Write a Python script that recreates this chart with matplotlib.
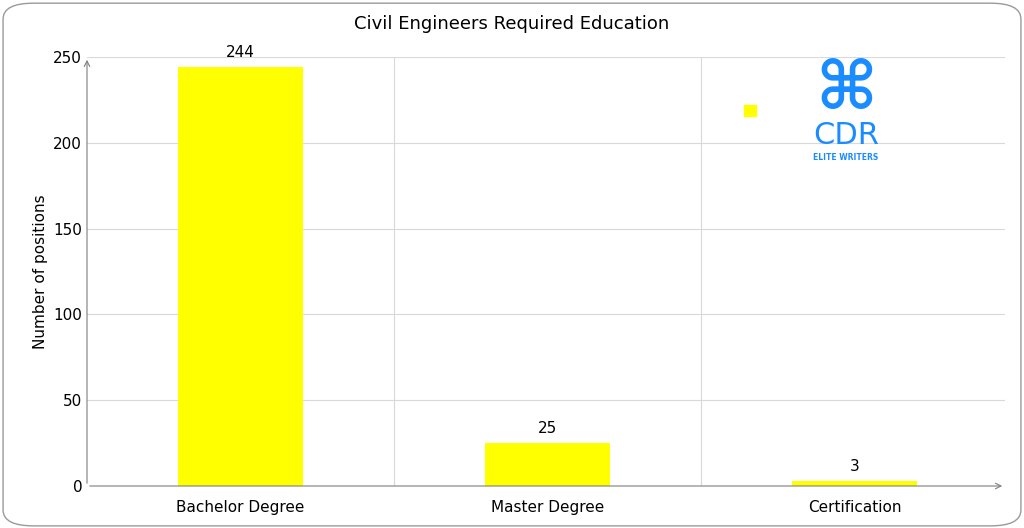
import matplotlib
matplotlib.use("Agg")
import matplotlib.pyplot as plt
from matplotlib.patches import FancyBboxPatch

categories = ["Bachelor Degree", "Master Degree", "Certification"]
values = [244, 25, 3]
title = "Civil Engineers Required Education"
ylabel = "Number of positions"

fig = plt.figure(figsize=(10.24, 5.28), dpi=100)
fig.patches.append(FancyBboxPatch((0.003, 0.004), 0.994, 0.99, boxstyle="round,pad=0,rounding_size=0.03",
                                  transform=fig.transFigure, fill=False, ec="#9a9a9a", lw=1))
ax = fig.add_axes([87/1024, 1-486/528, (1005-87)/1024, (486-57)/528])
x = range(len(categories))
bars = ax.bar(x, values, width=0.41, color="#ffff00", zorder=3)
for b, v in zip(bars, values):
    ax.text(b.get_x()+b.get_width()/2, v+4, str(v), ha="center", va="bottom", fontsize=11)
ax.set_xlim(-0.5, 2.49)
ax.set_ylim(0, 250)
ax.set_yticks(range(0, 251, 50))
ax.set_xticks(list(x))
ax.set_xticklabels(categories, fontsize=11)
ax.tick_params(axis="both", length=0, labelsize=11)
ax.tick_params(axis="x", pad=10)
ax.grid(axis="y", color="#d9d9d9", lw=0.8, zorder=0)
for xv in [0.5, 1.5]:
    ax.axvline(xv, color="#d9d9d9", lw=0.8, zorder=0)
for s in ax.spines.values():
    s.set_visible(False)
ax.annotate("", xy=(0, 1.0), xytext=(0, 0), xycoords="axes fraction",
            arrowprops=dict(arrowstyle="->", color="#7f7f7f", lw=0.8))
ax.annotate("", xy=(1.0, 0), xytext=(0, 0), xycoords="axes fraction",
            arrowprops=dict(arrowstyle="->", color="#7f7f7f", lw=0.8))
ax.set_ylabel(ylabel, fontsize=11)
fig.text(0.5, 1-24/528, title, ha="center", va="center", fontsize=13)
# legend square
fig.patches.append(plt.Rectangle((744/1024, 1-116/528), 12/1024, 11/528, color="#ffff00", transform=fig.transFigure))
# logo
fig.text(846/1024, 1-90/528, "\u2318", ha="center", va="center", fontsize=48, color="#1a8cff", fontweight="bold")
fig.text(846/1024, 1-136/528, "CDR", ha="center", va="center", fontsize=22, color="#1a8cff")
fig.text(846/1024, 1-157/528, "ELITE WRITERS", ha="center", va="center", fontsize=5.5, color="#1a8cff", fontweight="bold")
fig.savefig("out.png", dpi=100)
